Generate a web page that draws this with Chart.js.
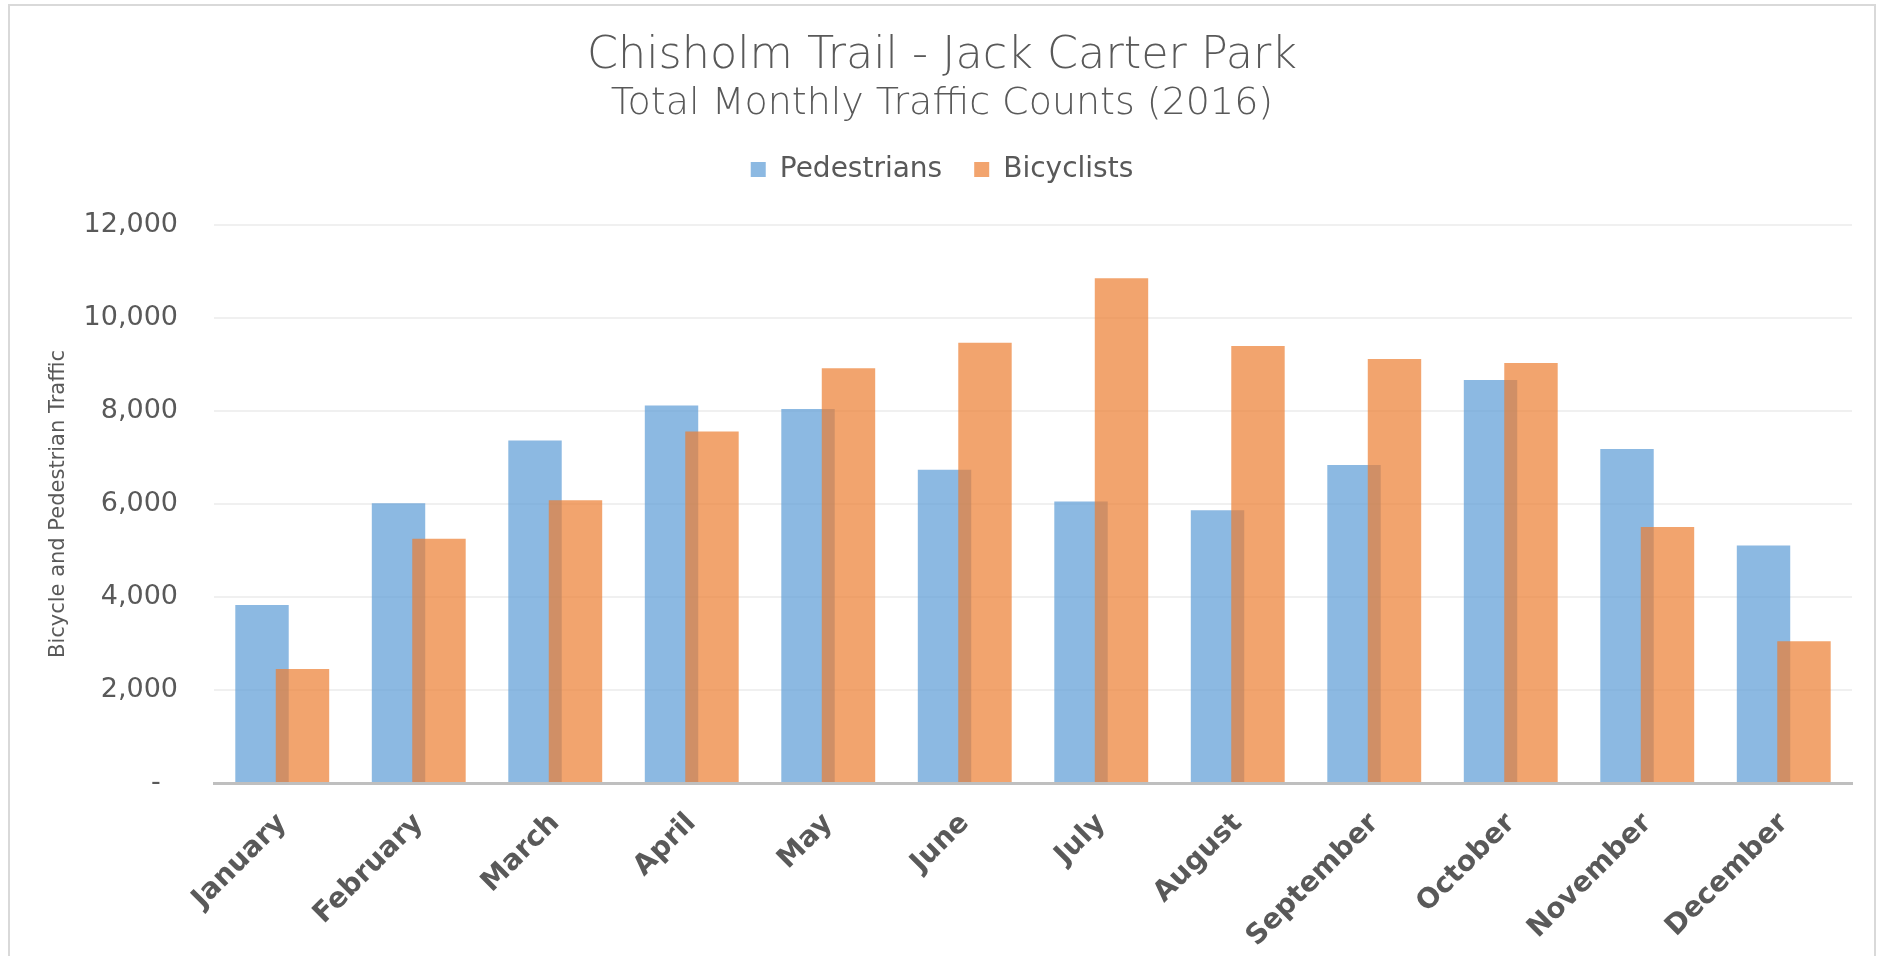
<!DOCTYPE html>
<html>
<head>
<meta charset="utf-8">
<title>Chisholm Trail - Jack Carter Park</title>
<script src="https://cdn.jsdelivr.net/npm/chart.js@4.4.0/dist/chart.umd.min.js"></script>
<style>
  html, body { margin: 0; padding: 0; background: #ffffff; }
  #wrap { position: relative; width: 1884px; height: 956px; overflow: hidden; }
  #frame {
    position: absolute; left: 8px; top: 4px; width: 1868px; height: 1000px;
    border: 2px solid #d9d9d9; box-sizing: border-box; pointer-events: none;
  }
  canvas { position: absolute; left: 0; top: 0; }
</style>
</head>
<body>
<div id="wrap">
  <canvas id="trafficChart" width="1884" height="956"></canvas>
  <div id="frame"></div>
</div>
<script>
// ------------------- Data ------------------- //
const months = ["January", "February", "March", "April", "May", "June",
  "July", "August", "September", "October", "November", "December"];
const pedestrians = [3827, 6014, 7368, 8120, 8041, 6737, 6056, 5863, 6837, 8664, 7181, 5110];
const bicyclists = [2451, 5253, 6078, 7561, 8922, 9467, 10857, 9396, 9116, 9030, 5504, 3046];
const yTicks = [0, 2000, 4000, 6000, 8000, 10000, 12000];

const textGrey = "#595959";
const fontFamily = "'DejaVu Sans', sans-serif";

// Format tick numbers, Excel-style dash for zero
function fmtTick(v) {
  if (v === 0) return "-  ";
  return Number(v).toLocaleString("en-US");
}

// ------------------- Plugins ------------------- //

// Draw the Bicyclists bars after the Pedestrians bars so orange sits on top
const orangeOnTop = {
  id: "orangeOnTop",
  beforeDatasetDraw(chart, args) {
    if (args.index === 1 && !chart.$lateDraw) return false;
  },
  afterDatasetsDraw(chart) {
    chart.$lateDraw = true;
    chart.getDatasetMeta(1).controller.draw();
    chart.$lateDraw = false;
  },
};

// Leave some extra room between the legend and the plot
const legendGap = {
  id: "legendGap",
  beforeUpdate(chart) {
    const lg = chart.legend;
    if (lg && !lg.$patched) {
      const fit = lg.fit.bind(lg);
      lg.fit = function () { fit(); this.height += 31.5; };
      lg.$patched = true;
    }
  },
};

// ------------------- Chart ------------------- //
const ctx = document.getElementById("trafficChart").getContext("2d");

new Chart(ctx, {
  type: "bar",
  data: {
    labels: months,
    datasets: [
      {
        label: "Pedestrians",
        data: pedestrians,
        backgroundColor: "rgba(91,155,213,0.7)",
        categoryPercentage: 0.593,
        barPercentage: 1.32,
      },
      {
        label: "Bicyclists",
        data: bicyclists,
        backgroundColor: "rgba(237,125,49,0.7)",
        categoryPercentage: 0.593,
        barPercentage: 1.32,
      },
    ],
  },
  plugins: [orangeOnTop, legendGap],
  options: {
    responsive: false,
    animation: false,
    layout: { padding: { top: 8, right: 32, bottom: 0, left: 32 } },
    plugins: {
      title: {
        display: true,
        text: "Chisholm Trail - Jack Carter Park",
        color: textGrey,
        font: { family: fontFamily, size: 44.5, weight: 200, lineHeight: 1.0 },
        padding: { top: 26, bottom: 0 },
      },
      subtitle: {
        display: true,
        text: "Total Monthly Traffic Counts (2016)",
        color: textGrey,
        font: { family: fontFamily, size: 38, weight: 200, lineHeight: 1.0 },
        padding: { top: 7, bottom: 0 },
      },
      legend: {
        position: "top",
        labels: {
          color: textGrey,
          font: { family: fontFamily, size: 28 },
          boxWidth: 15,
          boxHeight: 15,
          padding: 32,
        },
      },
      tooltip: { enabled: false },
    },
    scales: {
      x: {
        grid: { display: false, drawTicks: false },
        border: { display: true, color: "#bfbfbf", width: 3 },
        ticks: {
          color: textGrey,
          font: { family: fontFamily, size: 28, weight: "bold" },
          maxRotation: 45,
          minRotation: 45,
          padding: 24,
        },
        afterFit: (scale) => { scale.height = 956 - 783; },
      },
      y: {
        min: 0,
        max: 12000,
        afterBuildTicks: (scale) => { scale.ticks = yTicks.map(v => ({ value: v })); },
        grid: { color: "#f0f0f0", lineWidth: 2, drawTicks: false },
        border: { display: false },
        ticks: {
          color: textGrey,
          font: { family: fontFamily, size: 27 },
          padding: 36,
          callback: (v) => fmtTick(v),
        },
        title: {
          display: true,
          text: "Bicycle and Pedestrian Traffic",
          color: textGrey,
          font: { family: fontFamily, size: 21 },
          padding: { top: 14, bottom: 0 },
        },
        afterFit: (scale) => { scale.width = 214 - 32; },
      },
    },
  },
});
</script>
</body>
</html>
